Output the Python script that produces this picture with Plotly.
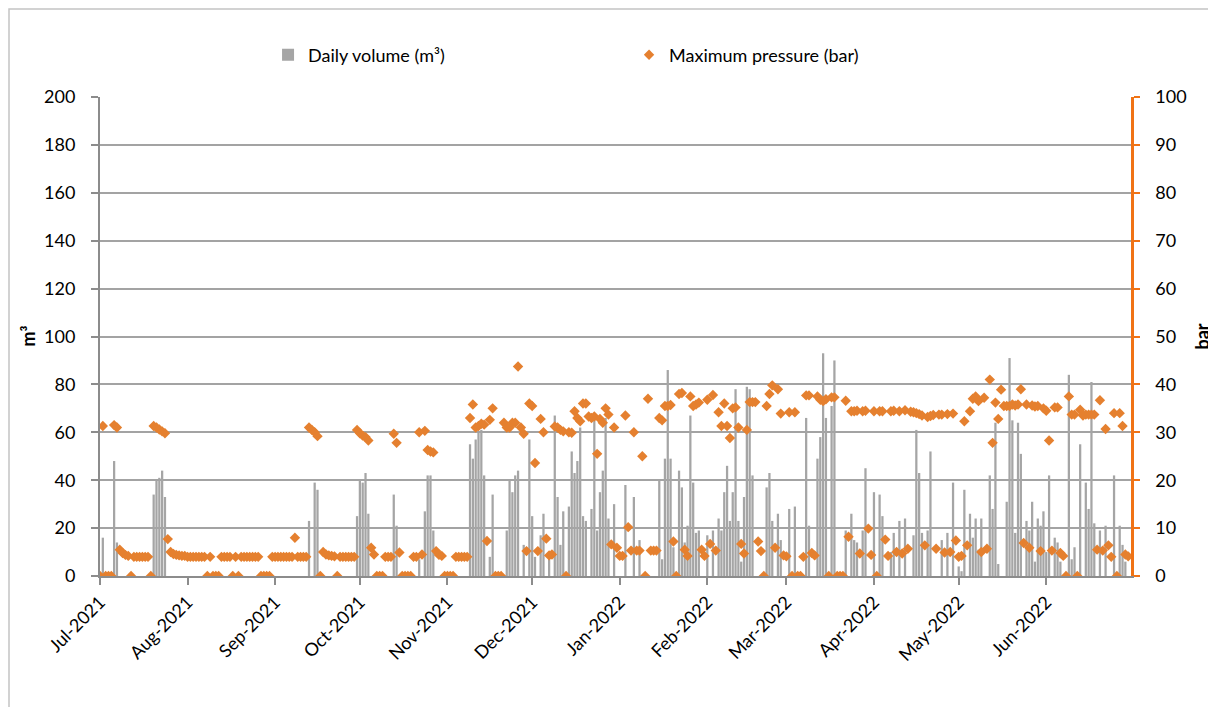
import pandas as pd
import plotly.graph_objects as go

# ---------------- data (one value per day, Jul-2021 .. Jun-2022) ----------------
month_starts = ["2021-07-01", "2021-08-01", "2021-09-01", "2021-10-01", "2021-11-01", "2021-12-01",
                "2022-01-01", "2022-02-01", "2022-03-01", "2022-04-01", "2022-05-01", "2022-06-01"]
month_labels = ["Jul-2021", "Aug-2021", "Sep-2021", "Oct-2021", "Nov-2021", "Dec-2021",
                "Jan-2022", "Feb-2022", "Mar-2022", "Apr-2022", "May-2022", "Jun-2022"]

# Daily volume (m3)
vol_jul = [0, 16, 0, 0, 0, 48, 14, 0, 0, 0, 0, 0, 0, 0, 0, 0, 0, 0, 0, 34,
           40, 41, 44, 33, 0, 0, 0, 0, 0, 0, 0]
vol_aug = [0] * 31
vol_sep = [0, 0, 0, 0, 0, 0, 0, 0, 0, 0, 0, 0, 23, 0, 39, 36, 0, 0, 0, 0,
           0, 0, 0, 0, 0, 0, 0, 0, 0, 25]
vol_oct = [40, 39, 43, 26, 0, 0, 0, 0, 0, 0, 0, 0, 34, 21, 0, 0, 0, 0, 0, 0,
           0, 7, 0, 27, 42, 42, 19, 0, 0, 0, 0]
vol_nov = [0, 0, 0, 0, 0, 0, 0, 0, 55, 49, 57, 60, 61, 42, 0, 8, 34, 0, 0, 0,
           0, 19, 40, 35, 42, 44, 0, 13, 0, 57]
vol_dec = [25, 8, 0, 17, 26, 0, 10, 0, 67, 33, 13, 27, 0, 29, 52, 43, 48, 62, 25, 23,
           0, 28, 65, 19, 35, 44, 66, 24, 0, 30, 0]
vol_jan = [0, 0, 38, 0, 0, 33, 0, 15, 0, 0, 0, 0, 0, 0, 40, 7, 49, 86, 49, 12,
           0, 44, 37, 14, 21, 67, 39, 18, 19, 0, 0]
vol_feb = [17, 0, 19, 0, 24, 19, 35, 46, 23, 35, 78, 23, 6, 33, 79, 78, 42, 0, 0, 0,
           0, 37, 43, 23, 0, 26, 15, 0]
vol_mar = [0, 28, 0, 29, 0, 0, 0, 66, 21, 0, 0, 49, 58, 93, 66, 0, 71, 90, 0, 0,
           0, 19, 0, 26, 15, 14, 0, 19, 45, 0, 0]
vol_apr = [35, 0, 34, 25, 0, 0, 10, 18, 0, 23, 0, 24, 0, 0, 17, 61, 43, 18, 0, 19,
           52, 0, 0, 0, 15, 0, 18, 0, 39, 0]
vol_may = [4, 2, 36, 0, 26, 16, 24, 11, 24, 0, 0, 42, 28, 64, 5, 0, 0, 31, 91, 65,
           18, 64, 51, 0, 23, 19, 31, 6, 24, 21, 27]
vol_jun = [10, 42, 0, 16, 14, 6, 0, 0, 84, 7, 12, 0, 55, 0, 39, 28, 81, 22, 0, 19,
           0, 21, 0, 0, 42, 0, 21, 13, 6, 0]

# Maximum pressure (bar)
p_jul = [0, 31.3, 0, 0, 0, 31.5, 31, 5.5, 4.8, 4.4, 4.2, 0, 4.0, 4.0, 4.0, 4.0, 4.0, 4.0, 0, 31.3,
         31, 30.6, 30.2, 29.8, 7.7, 5, 4.6, 4.4, 4.3, 4.2, 4.2]
p_aug = [4.0, 4.0, 4.0, 4.0, 4.0, 4.0, 4.0, 0, 4.0, 0, 0, 0, 4.0, 4.0, 4.0, 4.0, 0, 4.0, 0, 4.0,
         4.0, 4.0, 4.0, 4.0, 4.0, 4.0, 0, 0, 0, 0, 4.0]
p_sep = [4.0, 4.0, 4.0, 4.0, 4.0, 4.0, 4.0, 8, 4.0, 4.0, 4.0, 4.0, 31, 30.5, 30, 29.2, 0, 5, 4.5, 4.3,
         4.2, 4.1, 0, 4.0, 4.0, 4.0, 4.0, 4.0, 4.0, 30.5]
p_oct = [29.8, 29.3, 29, 28.3, 5.9, 4.5, 0, 0, 0, 4.0, 4.0, 4.0, 29.7, 27.8, 4.9, 0, 0, 0, 0, 4.0,
         4.0, 30, 4.5, 30.3, 26.3, 26, 25.8, 5.2, 4.4, 4.2, 0]
p_nov = [0, 0, 0, 4.0, 4.0, 4.0, 4.0, 4.0, 33, 35.8, 31, 31.3, 31.8, 31.6, 7.3, 32.6, 35, 0, 0, 0,
         32, 31, 31, 32, 32, 43.75, 31, 29.7, 5.2, 36]
p_dec = [35.5, 23.6, 5.2, 32.8, 30, 7.8, 4.3, 4.5, 31.2, 31, 30.5, 30.2, 0, 30, 29.9, 34.4, 33, 32.3, 36, 36,
         33.3, 33, 33.3, 25.5, 32.8, 32, 35, 33.7, 6.6, 31, 5.9]
p_jan = [4.2, 4.2, 33.5, 10.2, 5.3, 30, 5.3, 5.3, 25, 0, 37, 5.3, 5.3, 5.3, 33, 32.5, 35.5, 35.5, 35.7, 7.2,
         0, 38, 38.2, 5.5, 4.2, 37.5, 35.5, 35.8, 36.2, 5.5, 4.2]
p_feb = [36.8, 6.7, 37.8, 5.3, 34.2, 31.3, 36, 31.3, 28.8, 35, 35.2, 31, 6.7, 4.7, 30.5, 36.3, 36.3, 36.3, 7.2, 5.2,
         0, 35.5, 38, 39.8, 5.9, 39, 33.9, 4.3]
p_mar = [4.1, 34.2, 0, 34.2, 0, 0, 4, 37.7, 37.7, 4.8, 4.3, 37.5, 36.8, 36.5, 36.9, 0, 37.3, 37.3, 0, 0,
         0, 36.6, 8.2, 34.4, 34.4, 34.5, 4.7, 34.4, 34.5, 9.9, 4.4]
p_apr = [34.4, 0, 34.4, 34.4, 7.6, 4.2, 34.4, 34.5, 5, 34.4, 4.7, 34.6, 5.7, 34.3, 34.2, 34, 33.8, 33.5, 6.4, 33.2,
         33.4, 33.6, 5.7, 33.7, 33.7, 4.9, 33.8, 5, 33.9, 7.4]
p_may = [4, 4.2, 32.3, 6.4, 34.4, 37, 37.5, 36.5, 5, 37.2, 5.7, 41, 27.8, 36.2, 32.8, 38.9, 35.5, 35.5, 35.5, 35.8,
         35.6, 35.8, 39, 6.9, 35.8, 5.9, 35.6, 35.4, 35.5, 5.2, 35]
p_jun = [34.5, 28.3, 5.3, 35.2, 35.2, 4.8, 4.2, 0, 37.5, 33.7, 33.7, 0, 34.7, 33.5, 33.7, 33.7, 33.7, 33.7, 5.5, 36.7,
         5.3, 30.7, 6.4, 4, 34, 0, 34, 31.3, 4.5, 4.1]

volume = (vol_jul + vol_aug + vol_sep + vol_oct + vol_nov + vol_dec +
          vol_jan + vol_feb + vol_mar + vol_apr + vol_may + vol_jun)
pressure = (p_jul + p_aug + p_sep + p_oct + p_nov + p_dec +
            p_jan + p_feb + p_mar + p_apr + p_may + p_jun)
dates = pd.date_range("2021-07-01", "2022-06-30", freq="D")

# ---------------- styles ----------------
FONT = "Lato, 'Open Sans', sans-serif"
GRAY_BAR = "#A5A5A5"
ORANGE = "#E5802F"
AXIS_ORANGE = "#F07315"
GRID = "#A3A3A3"

# page body has an 8px margin: plot area is placed at page x 100..1131, y 97..576
PL, PT, PW, PH = 100, 97, 1031, 479
OFF = 8

fig = go.Figure()
fig.add_trace(go.Bar(x=dates, y=volume, name="Daily volume (m³)",
                     marker=dict(color=GRAY_BAR, line=dict(width=0))))
fig.add_trace(go.Scatter(x=dates, y=pressure, name="Maximum pressure (bar)", yaxis="y2",
                         mode="markers",
                         marker=dict(symbol="diamond", size=8, color=ORANGE)))

W, H = 1216 - OFF, 707 - OFF
fig.update_layout(
    width=W, height=H,
    margin=dict(l=PL - OFF, r=W - (PL - OFF) - PW, t=PT - OFF, b=H - (PT - OFF) - PH, autoexpand=False),
    paper_bgcolor="white", plot_bgcolor="white",
    font=dict(family=FONT, size=18, color="#000000"),
    bargap=0.2,
    showlegend=True,
    legend=dict(orientation="h", x=0.163, xanchor="left", y=1 + (PT - 55) / PH, yanchor="middle",
                entrywidth=316, entrywidthmode="pixels",
                font=dict(family=FONT, size=18, color="#000000"),
                bgcolor="rgba(0,0,0,0)"),
    xaxis=dict(
        type="date",
        range=["2021-07-01", "2022-07-01"],
        tickvals=month_starts, ticktext=month_labels,
        tickangle=-45,
        ticks="outside", ticklen=7, tickcolor="#8C8C8C", tickwidth=1.5,
        showline=True, linecolor="#8C8C8C", linewidth=1.5,
        showgrid=False, zeroline=False,
        tickfont=dict(family=FONT, size=18, color="#000000"),
    ),
    yaxis=dict(
        range=[0, 200], dtick=20,
        ticks="outside", ticklen=7, tickcolor="#8C8C8C", tickwidth=1.5,
        showline=True, linecolor="#8C8C8C", linewidth=2,
        showgrid=True, gridcolor=GRID, gridwidth=1.5,
        zeroline=False,
        ticklabelstandoff=12,
        tickfont=dict(family=FONT, size=18, color="#000000"),
    ),
    yaxis2=dict(
        range=[0, 100], dtick=10,
        overlaying="y", side="right",
        ticks="outside", ticklen=6, tickcolor=AXIS_ORANGE, tickwidth=1.5,
        showline=True, linecolor=AXIS_ORANGE, linewidth=2.5,
        showgrid=False, zeroline=False,
        ticklabelstandoff=12,
        tickfont=dict(family=FONT, size=18, color="#000000"),
    ),
    annotations=[
        dict(text="<b>m³</b>", xref="paper", yref="paper", x=(27 - PL) / PW, y=0.5,
             textangle=-90, showarrow=False, font=dict(family=FONT, size=18, color="#000000"),
             xanchor="center", yanchor="middle"),
        dict(text="<b>bar</b>", xref="paper", yref="paper", x=(1201 - PL) / PW, y=0.5,
             textangle=-90, showarrow=False, font=dict(family=FONT, size=18, color="#000000"),
             xanchor="center", yanchor="middle"),
    ],
    shapes=[
        # chart-area frame (kept inside the figure so it is visible)
        dict(type="rect", xref="paper", yref="paper",
             x0=(OFF + 1 - PL) / PW, x1=(1211 - PL) / PW,
             y0=(PT + PH - (OFF + H + 5)) / PH, y1=1 + (PT - (OFF + 1)) / PH,
             line=dict(color="#C4C4C4", width=1.5), fillcolor="rgba(0,0,0,0)", layer="above"),
    ],
)

fig.write_html("out.html")
